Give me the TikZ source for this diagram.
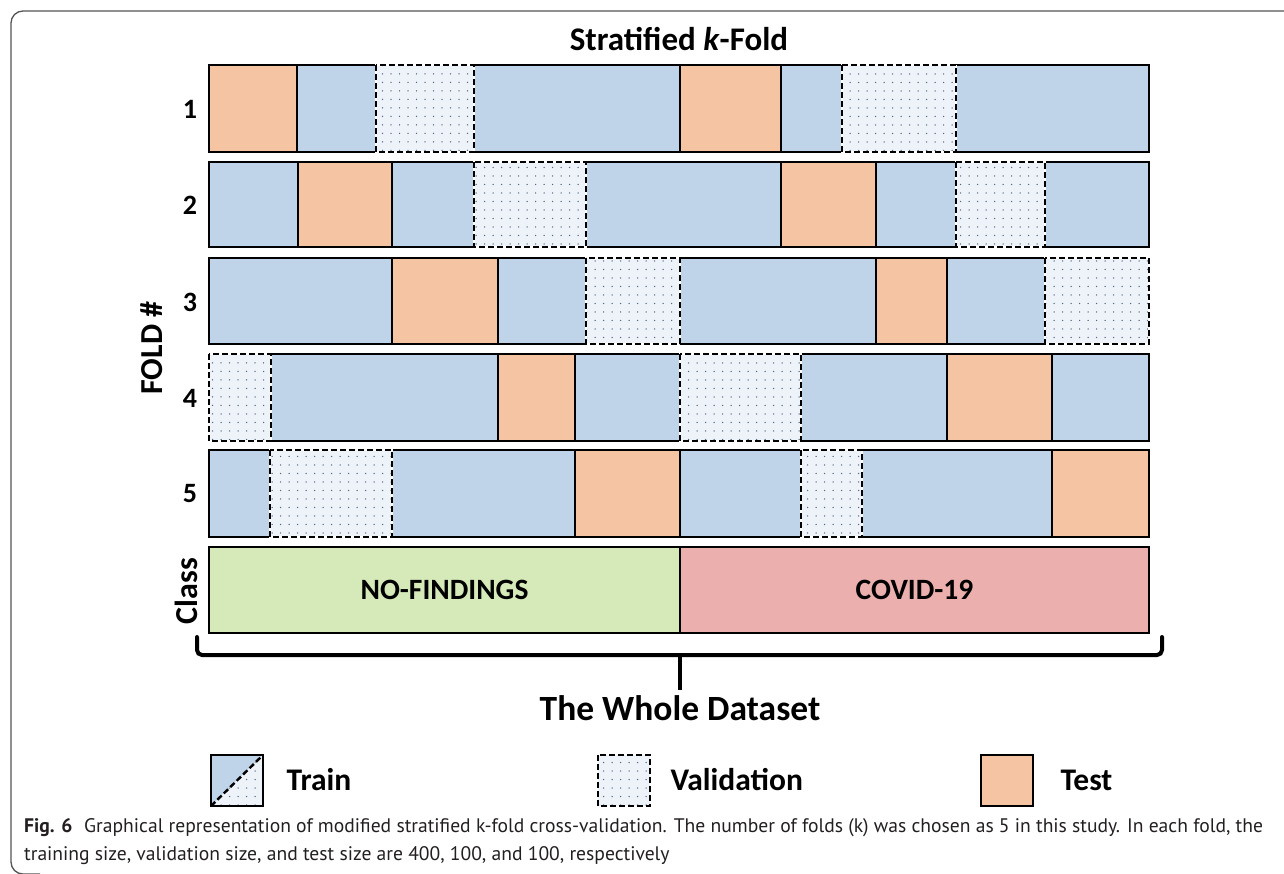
\documentclass[tikz,border=0pt]{standalone}
\usepackage{fontspec}
\setmainfont{Carlito}
\newfontfamily\capfont{PT Sans}
\usetikzlibrary{patterns.meta}
\definecolor{trainc}{HTML}{C0D4E9}
\definecolor{testc}{HTML}{F5C4A2}
\definecolor{valc}{HTML}{EEF3F9}
\definecolor{dotc}{HTML}{5A6A80}
\definecolor{nofc}{HTML}{D5EAB8}
\definecolor{covc}{HTML}{EBB0AE}
\definecolor{framec}{HTML}{555555}
\definecolor{capc}{HTML}{231F20}
\newcommand\foldrow[5]{%
  \foreach \a/\b in {#3} {\draw[trainseg] (\a,#1) rectangle (\b,#2);}
  \foreach \a/\b in {#4} {\draw[testseg] (\a,#1) rectangle (\b,#2);}
  \foreach \a/\b in {#5} {%
    \fill[valc] (\a,#1) rectangle (\b,#2);
    \fill[valdots] (\a,#1) rectangle (\b,#2);
    \draw[white,line width=2.4pt] (\a,#1) rectangle (\b,#2);
    \draw[valline] (\a,#1) rectangle (\b,#2);}%
}
\begin{document}
\begin{tikzpicture}[x=1pt,y=-1pt,
  trainseg/.style={fill=trainc,draw=black,line width=2pt},
  testseg/.style={fill=testc,draw=black,line width=2.6pt},
  valdots/.style={pattern={Dots[radius=0.75pt,distance=8.5pt]},pattern color=dotc},
  valline/.style={draw=black,line width=2.4pt,dash pattern=on 6pt off 3pt},
  classbox/.style={draw=black,line width=2pt,font=\bfseries\fontsize{29.5}{32}\selectfont},
  rowlab/.style={font=\bfseries\fontsize{28}{30}\selectfont},
  sidelab/.style={font=\bfseries\fontsize{32}{34}\selectfont,rotate=90},
  legtext/.style={font=\bfseries\fontsize{31.5}{34}\selectfont,anchor=base west},
  captext/.style={font=\capfont\fontsize{19.6}{23}\selectfont,text=capc,anchor=base west,inner sep=0pt},
  brace/.style={line width=4pt,rounded corners=5pt,line cap=round}]
\clip (0,0) rectangle (1284,873);
% frame
\draw[framec,line width=1.3pt,rounded corners=12pt] (1300,11) -- (11,11) -- (11,874) -- (40,874);
% title
\node[font=\bfseries\fontsize{33}{36}\selectfont,anchor=base] (title) at (679,50) {Stratified \textit{k}-Fold};
% rows
\foldrow{65}{152}{297/376,474/680,781/842,956/1149}{209/297,680/781}{376/474,842/956}
\foldrow{162}{247}{209/298,392/474,586/781,876/956,1045/1149}{298/392,781/876}{474/586,956/1045}
\foldrow{258}{344}{209/392,498/586,680/876,947/1045}{392/498,876/947}{586/680,1045/1149}
\foldrow{354}{441}{271/498,575/680,801/947,1052/1149}{498/575,947/1052}{209/271,680/801}
\foldrow{450}{537}{209/270,392/575,680/801,862/1052}{575/680,1052/1149}{270/392,801/862}
% row labels
\node[rowlab] (l1) at (190,109) {1};
\node[rowlab] (l2) at (190,205) {2};
\node[rowlab] (l3) at (190,302) {3};
\node[rowlab] (l4) at (190,398) {4};
\node[rowlab] (l5) at (190,494) {5};
\node[sidelab] (fold) at (152,348) {FOLD \#};
% class row
\node[classbox,fill=nofc,minimum width=471pt,minimum height=86pt,inner sep=0pt] (nof) at (444.5,590) {NO-FINDINGS};
\node[classbox,fill=covc,minimum width=469pt,minimum height=86pt,inner sep=0pt] (cov) at (914.5,590) {COVID-19};
\node[sidelab] (cls) at (186,591) {Class};
% brace
\coordinate (bl) at (197,637);
\coordinate (br) at (1162,637);
\coordinate (bm) at (680,655);
\coordinate (bt) at (680,690);
\draw[brace] (bl) -- (197,655) -- (1162,655) -- (br);
\draw[line width=4pt] (bm) -- (bt);
\node[font=\bfseries\fontsize{35.5}{38}\selectfont,anchor=base] (whole) at (680,720) {The Whole Dataset};
% legend
\fill[trainc] (211,755) -- (263,755) -- (211,806) -- cycle;
\fill[valc] (263,755) -- (263,806) -- (211,806) -- cycle;
\fill[valdots] (263,755) -- (263,806) -- (211,806) -- cycle;
\draw[valline] (211,806) -- (263,755);
\draw[black,line width=2.6pt] (211,755) rectangle (263,806);
\node[legtext] (ltrain) at (283,790) {Train};
\fill[valc] (598,755) rectangle (650,806);
\fill[valdots] (598,755) rectangle (650,806);
\draw[valline] (598,755) rectangle (650,806);
\node[legtext] (lval) at (667,790) {Validation};
\draw[testseg] (981,755) rectangle (1033,806);
\node[legtext] (ltest) at (1057,790) {Test};
% caption
\node[captext] (cap1) at (24,832) {\textbf{Fig. 6}\hspace{0.6em}Graphical representation of modified stratified k-fold cross-validation. The number of folds (k) was chosen as 5 in this study. In each fold, the};
\node[captext] (cap2) at (24,860) {training size, validation size, and test size are 400, 100, and 100, respectively};
\end{tikzpicture}
\end{document}
